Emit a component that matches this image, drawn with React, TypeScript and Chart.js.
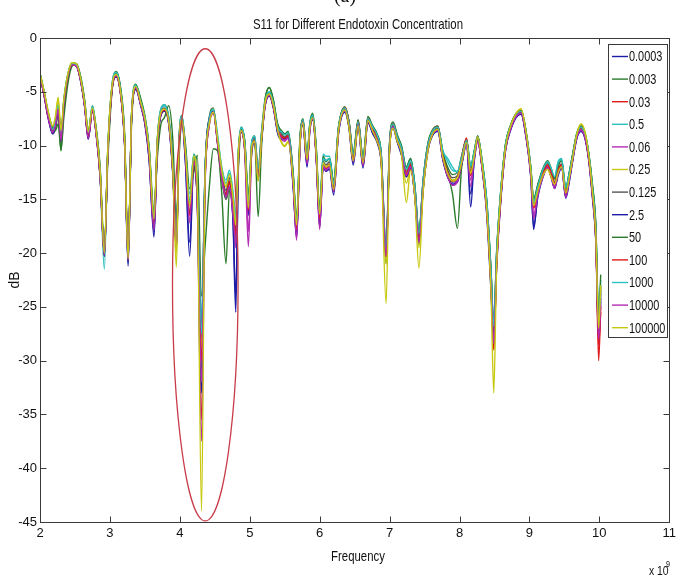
import React, { useEffect, useRef } from 'react';
import { Chart, registerables } from 'chart.js';

Chart.register(...registerables);

// Frequency in GHz (axis shows x 10^9)
const frequencyGHz = [
  2.00, 2.06, 2.12, 2.18, 2.22, 2.26, 2.30, 2.34, 2.40, 2.46,
  2.52, 2.58, 2.64, 2.69, 2.75, 2.80, 2.86, 2.92, 2.97, 3.03,
  3.09, 3.15, 3.21, 3.26, 3.31, 3.37, 3.44, 3.50, 3.56, 3.63,
  3.68, 3.73, 3.78, 3.84, 3.90, 3.95, 3.99, 4.03, 4.08, 4.14,
  4.20, 4.25, 4.31, 4.36, 4.42, 4.48, 4.54, 4.60, 4.66, 4.71,
  4.76, 4.80, 4.84, 4.88, 4.93, 4.98, 5.03, 5.07, 5.12, 5.17,
  5.22, 5.28, 5.34, 5.40, 5.45, 5.50, 5.55, 5.62, 5.67, 5.72,
  5.76, 5.82, 5.86, 5.90, 5.95, 6.00, 6.05, 6.09, 6.14, 6.20,
  6.27, 6.36, 6.42, 6.48, 6.55, 6.62, 6.69, 6.76, 6.82, 6.88,
  6.95, 7.00, 7.05, 7.11, 7.17, 7.24, 7.30, 7.36, 7.42, 7.48,
  7.55, 7.61, 7.69, 7.76, 7.83, 7.90, 7.97, 8.03, 8.10, 8.16,
  8.21, 8.26, 8.32, 8.39, 8.45, 8.49, 8.53, 8.59, 8.66, 8.73,
  8.81, 8.88, 8.95, 9.02, 9.06, 9.12, 9.19, 9.26, 9.31, 9.36,
  9.41, 9.46, 9.52, 9.57, 9.62, 9.68, 9.74, 9.80, 9.85, 9.90,
  9.95, 9.99, 10.02,
];

const concentrationLabels = [
  '0.0003', '0.003', '0.03', '0.5', '0.06', '0.25', '0.125',
  '2.5', '50', '100', '1000', '10000', '100000',
];

const lineColors = [
  '#1c1ca6', '#2a7a2a', '#e01818', '#2cc0c0', '#b42cb4', '#c8c810', '#555555',
  '#1c1ca6', '#2a7a2a', '#e01818', '#2cc0c0', '#b42cb4', '#c8c810',
];

const s0_0003 = [
  -3.5,-5.3,-7.4,-8.8,-8.2,-6.7,-9.5,-6.2,-3.5,-2.4,
  -2.5,-3.9,-6.4,-9.3,-6.5,-8.6,-12.8,-19.8,-10.6,-4.7,
  -3.5,-5.0,-9.8,-20.2,-7.3,-4.7,-6.2,-7.9,-11.2,-18.5,
  -9.8,-7.0,-6.6,-7.9,-12.6,-18.8,-9.7,-7.8,-11.5,-20.3,
  -11.8,-15.0,-28.0,-12.5,-7.5,-6.9,-9.9,-13.0,-14.8,-13.5,
  -17.0,-25.5,-11.0,-8.7,-10.4,-16.0,-10.0,-9.6,-13.0,-9.4,
  -6.2,-5.3,-6.5,-8.8,-9.3,-9.3,-9.2,-13.6,-18.2,-9.8,
  -8.0,-11.8,-8.4,-7.4,-10.9,-17.2,-11.8,-12.2,-12.0,-14.3,
  -8.8,-6.7,-8.3,-11.6,-8.1,-11.9,-7.8,-8.9,-9.6,-11.5,
  -20.5,-10.3,-8.3,-9.6,-10.8,-12.9,-12.0,-14.6,-19.2,-14.0,
  -10.3,-9.1,-8.6,-11.2,-12.8,-13.4,-13.2,-11.8,-9.8,-15.7,
  -11.3,-9.5,-11.9,-16.2,-23.0,-28.5,-21.2,-15.0,-10.3,-8.5,
  -7.3,-7.0,-9.1,-12.8,-17.8,-14.6,-12.9,-12.0,-12.8,-13.9,
  -12.6,-12.0,-14.8,-13.2,-11.3,-9.2,-8.6,-9.4,-11.4,-14.6,
  -18.8,-27.0,-23.5,
];
const s0_003 = [
  -3.3,-5.1,-7.3,-8.9,-8.5,-7.2,-10.5,-6.6,-3.5,-2.3,
  -2.4,-3.7,-6.0,-8.8,-6.3,-8.3,-12.2,-20.0,-10.2,-4.4,
  -3.1,-4.6,-9.2,-20.5,-7.0,-4.3,-5.8,-7.4,-10.2,-16.8,
  -9.2,-6.6,-6.2,-7.3,-11.6,-18.8,-9.2,-7.2,-10.2,-15.2,
  -10.8,-14.0,-31.0,-12.6,-7.4,-6.5,-9.8,-14.5,-21.0,-14.2,
  -15.0,-17.0,-10.2,-8.3,-9.8,-15.0,-9.6,-9.1,-12.2,-8.6,
  -5.6,-4.6,-5.9,-8.2,-8.7,-9.0,-8.8,-12.6,-17.0,-9.2,
  -7.6,-11.0,-8.0,-7.1,-10.2,-16.0,-11.2,-11.5,-11.2,-13.4,
  -8.3,-6.5,-7.8,-10.8,-7.7,-11.1,-7.4,-8.3,-9.0,-10.8,
  -21.0,-9.8,-7.9,-9.1,-10.1,-12.1,-11.3,-13.7,-18.0,-13.2,
  -9.8,-8.6,-8.2,-10.6,-12.0,-12.7,-12.5,-11.0,-9.4,-12.0,
  -10.5,-9.1,-11.2,-15.2,-21.5,-27.0,-20.0,-14.2,-9.8,-8.1,
  -7.0,-6.7,-8.6,-12.0,-15.0,-13.7,-12.2,-11.4,-12.1,-13.1,
  -11.9,-11.4,-14.0,-12.5,-10.8,-8.8,-8.2,-9.0,-10.8,-13.6,
  -17.5,-26.5,-23.0,
];
const s0_03 = [
  -3.4,-5.3,-7.5,-8.4,-7.7,-6.8,-9.3,-6.1,-3.4,-2.5,
  -2.6,-3.9,-6.3,-9.2,-6.8,-8.7,-12.9,-20.0,-10.8,-4.8,
  -3.6,-5.1,-9.8,-20.0,-7.4,-4.6,-6.1,-7.7,-10.8,-17.0,
  -9.6,-7.1,-6.8,-7.8,-12.4,-19.0,-9.7,-7.6,-10.8,-16.5,
  -11.5,-15.2,-35.5,-13.5,-8.0,-6.9,-9.6,-12.8,-14.5,-13.3,
  -15.8,-17.5,-10.7,-8.6,-10.3,-16.2,-10.0,-9.5,-12.8,-9.2,
  -6.1,-5.3,-6.4,-8.6,-9.1,-9.4,-9.2,-13.3,-18.0,-9.6,
  -7.7,-11.6,-8.3,-7.4,-10.8,-17.0,-11.7,-12.0,-11.7,-14.0,
  -8.4,-6.4,-7.9,-11.2,-7.7,-11.7,-7.5,-8.4,-9.4,-11.3,
  -20.4,-10.1,-8.0,-9.4,-10.5,-12.7,-11.8,-14.3,-18.8,-13.8,
  -10.2,-8.7,-8.2,-11.0,-12.6,-13.3,-13.0,-11.2,-9.4,-12.8,
  -11.0,-9.2,-11.7,-15.8,-22.5,-28.0,-21.0,-14.8,-10.1,-8.2,
  -7.1,-6.8,-8.9,-12.5,-15.8,-14.2,-12.7,-11.9,-12.6,-13.6,
  -12.4,-11.9,-14.5,-13.0,-11.1,-9.0,-8.2,-9.3,-11.2,-14.3,
  -18.5,-30.0,-25.0,
];
const s0_5 = [
  -3.3,-5.1,-7.0,-8.4,-7.8,-6.2,-9.0,-5.8,-3.3,-2.3,
  -2.4,-3.6,-6.0,-8.8,-6.3,-8.3,-12.8,-21.5,-10.4,-4.4,
  -3.2,-4.6,-9.3,-21.0,-7.0,-4.4,-5.9,-7.4,-10.3,-17.0,
  -9.2,-6.6,-6.2,-7.4,-11.8,-19.0,-9.3,-7.3,-10.3,-14.5,
  -10.8,-13.8,-26.0,-12.5,-7.6,-6.7,-9.0,-12.0,-13.2,-12.3,
  -14.2,-16.5,-10.2,-8.4,-9.8,-15.0,-9.6,-9.2,-12.3,-8.8,
  -5.9,-5.0,-6.0,-8.2,-8.6,-8.9,-8.7,-12.7,-17.2,-9.3,
  -7.6,-10.8,-8.0,-7.1,-10.3,-16.0,-10.8,-11.0,-11.0,-13.5,
  -8.4,-6.6,-8.0,-10.8,-7.8,-11.2,-7.5,-8.4,-9.0,-10.8,
  -19.5,-9.8,-8.0,-9.1,-10.1,-12.0,-11.2,-13.6,-18.0,-13.2,
  -9.8,-8.7,-8.4,-10.5,-11.2,-12.0,-12.5,-11.0,-9.5,-11.8,
  -10.6,-9.2,-11.3,-15.0,-21.5,-26.5,-20.0,-14.2,-9.8,-8.2,
  -7.1,-6.8,-8.7,-12.0,-15.2,-13.8,-12.3,-11.6,-12.2,-13.0,
  -11.5,-11.2,-13.8,-12.5,-10.8,-8.9,-8.2,-9.0,-10.8,-13.8,
  -17.6,-26.0,-22.5,
];
const s0_06 = [
  -3.5,-5.4,-7.6,-8.7,-8.1,-6.9,-9.7,-6.3,-3.5,-2.5,
  -2.6,-3.9,-6.4,-9.4,-6.8,-8.7,-12.7,-20.2,-10.7,-4.8,
  -3.6,-5.0,-9.7,-20.8,-7.3,-4.6,-6.2,-7.8,-10.8,-17.8,
  -9.7,-7.1,-6.7,-7.8,-12.3,-19.2,-9.8,-7.8,-10.9,-17.0,
  -11.6,-15.5,-37.5,-14.0,-8.2,-7.0,-9.8,-13.0,-15.0,-14.0,
  -16.5,-19.5,-11.2,-8.6,-10.8,-19.4,-10.4,-9.6,-13.0,-9.3,
  -6.3,-5.4,-6.5,-8.7,-9.4,-9.6,-9.3,-13.4,-18.8,-9.8,
  -7.9,-11.6,-8.5,-7.5,-11.0,-17.5,-11.9,-12.4,-11.9,-14.2,
  -8.6,-6.8,-8.2,-11.5,-8.1,-11.8,-7.8,-8.7,-9.5,-11.4,
  -20.2,-10.2,-8.2,-9.6,-10.6,-12.8,-11.9,-14.5,-19.0,-14.0,
  -10.3,-9.0,-8.6,-11.1,-12.9,-13.6,-13.1,-11.6,-9.8,-13.2,
  -11.2,-9.6,-11.8,-16.0,-22.8,-28.2,-21.0,-14.9,-10.2,-8.4,
  -7.3,-7.0,-9.0,-12.6,-16.5,-14.4,-12.9,-12.0,-12.8,-13.8,
  -12.5,-12.0,-14.7,-13.1,-11.2,-9.1,-8.5,-9.4,-11.2,-14.2,
  -18.2,-28.5,-24.5,
];
const s0_25 = [
  -3.3,-5.0,-7.0,-8.3,-7.5,-5.8,-8.8,-5.9,-3.3,-2.3,
  -2.4,-3.7,-6.1,-8.7,-6.5,-8.4,-12.4,-20.3,-10.3,-4.5,
  -3.4,-4.9,-9.4,-20.5,-7.1,-4.5,-6.0,-7.5,-10.4,-16.5,
  -9.4,-6.9,-6.6,-7.7,-12.5,-21.3,-9.8,-7.6,-10.6,-15.5,
  -11.0,-14.2,-29.0,-13.2,-8.0,-6.9,-9.4,-12.2,-13.8,-12.6,
  -14.8,-17.2,-10.4,-8.6,-10.2,-15.8,-10.0,-9.6,-13.2,-9.2,
  -6.0,-5.2,-6.3,-8.6,-9.6,-10.0,-9.6,-13.0,-17.2,-9.6,
  -7.9,-11.3,-8.3,-7.4,-10.6,-16.3,-11.6,-12.0,-11.8,-14.0,
  -8.6,-6.7,-8.3,-11.4,-8.2,-11.6,-7.7,-8.7,-9.6,-11.4,
  -21.0,-10.3,-8.4,-9.6,-10.8,-13.5,-12.2,-14.4,-19.5,-14.2,
  -10.4,-9.0,-8.5,-10.9,-12.5,-13.2,-12.9,-11.5,-9.7,-12.6,
  -11.0,-9.2,-11.6,-15.8,-22.5,-29.0,-21.0,-14.6,-10.1,-8.2,
  -7.0,-6.6,-8.7,-12.4,-15.4,-14.2,-12.8,-12.2,-12.9,-13.6,
  -12.5,-12.0,-14.4,-13.0,-11.1,-8.9,-8.0,-8.9,-11.0,-14.2,
  -18.3,-26.5,-23.2,
];
const s0_125 = [
  -3.4,-5.2,-7.2,-8.6,-8.0,-6.5,-9.2,-6.0,-3.4,-2.4,
  -2.5,-3.8,-6.2,-9.0,-6.6,-8.5,-12.5,-20.3,-10.5,-4.6,
  -3.3,-4.8,-9.5,-20.8,-7.2,-4.5,-6.0,-7.6,-10.5,-17.3,
  -9.5,-6.9,-6.5,-7.6,-12.0,-19.3,-9.5,-7.5,-10.5,-16.2,
  -11.2,-14.6,-27.0,-13.0,-7.8,-6.8,-9.5,-12.5,-14.2,-13.0,
  -15.5,-18.2,-10.5,-8.5,-10.0,-15.5,-9.8,-9.3,-12.5,-9.0,
  -6.0,-5.1,-6.2,-8.4,-8.9,-9.2,-9.0,-13.0,-17.4,-9.5,
  -7.8,-11.2,-8.2,-7.3,-10.5,-16.4,-11.5,-11.8,-11.5,-13.8,
  -8.5,-6.6,-8.0,-11.0,-7.9,-11.4,-7.6,-8.5,-9.2,-11.0,
  -19.8,-10.0,-8.1,-9.3,-10.3,-12.4,-11.6,-14.0,-18.4,-13.5,
  -10.0,-8.8,-8.4,-10.8,-12.3,-13.0,-12.8,-11.3,-9.6,-12.3,
  -10.8,-9.3,-11.5,-15.5,-22.0,-27.3,-20.5,-14.5,-10.0,-8.3,
  -7.2,-6.9,-8.8,-12.3,-15.5,-14.0,-12.5,-11.7,-12.4,-13.4,
  -12.2,-11.7,-14.3,-12.8,-11.0,-9.0,-8.4,-9.2,-11.0,-14.0,
  -18.0,-27.2,-23.8,
];
const s2_5 = [
  -3.5,-5.4,-7.5,-8.9,-8.3,-6.6,-9.6,-6.3,-3.6,-2.5,
  -2.6,-4.0,-6.5,-9.4,-6.7,-8.8,-13.0,-20.3,-10.9,-4.8,
  -3.6,-5.1,-10.0,-21.2,-7.5,-4.8,-6.3,-8.0,-11.3,-18.0,
  -10.0,-7.2,-6.8,-8.0,-12.8,-19.6,-9.9,-7.9,-11.6,-19.0,
  -11.9,-15.4,-33.0,-12.8,-7.6,-6.8,-9.6,-12.8,-14.6,-13.8,
  -16.8,-24.0,-11.2,-8.8,-10.5,-16.5,-10.2,-9.7,-13.2,-9.5,
  -6.3,-5.4,-6.6,-8.9,-9.4,-9.4,-9.3,-13.8,-18.5,-9.9,
  -8.1,-12.0,-8.6,-7.6,-11.1,-17.6,-12.0,-12.4,-12.2,-14.6,
  -8.9,-6.9,-8.4,-11.8,-8.3,-12.1,-7.9,-8.9,-9.7,-11.6,
  -20.0,-10.4,-8.4,-9.7,-10.9,-12.9,-12.1,-14.7,-18.8,-14.1,
  -10.4,-9.1,-8.7,-11.3,-12.9,-13.6,-13.4,-11.9,-9.9,-14.5,
  -11.5,-9.6,-12.0,-16.5,-23.5,-28.2,-21.5,-15.2,-10.4,-8.6,
  -7.4,-7.1,-9.2,-13.0,-17.5,-14.8,-13.0,-12.1,-12.9,-14.0,
  -12.8,-12.1,-14.9,-13.4,-11.4,-9.3,-8.7,-9.5,-11.5,-14.8,
  -19.0,-28.0,-24.2,
];
const s50 = [
  -3.3,-5.0,-7.0,-8.3,-8.6,-8.0,-10.4,-7.5,-4.2,-2.6,
  -2.4,-3.5,-5.8,-8.6,-6.8,-8.2,-12.0,-19.5,-11.5,-5.0,
  -3.2,-4.5,-8.8,-19.8,-8.0,-4.4,-5.6,-7.2,-10.0,-16.0,
  -11.0,-8.0,-7.4,-6.3,-9.5,-17.0,-11.0,-7.8,-9.8,-14.0,
  -12.5,-10.9,-24.0,-19.5,-14.0,-10.3,-10.5,-13.2,-15.0,-14.0,
  -16.0,-19.0,-11.8,-8.6,-9.6,-14.5,-10.6,-9.5,-16.6,-10.0,
  -5.8,-4.6,-5.8,-8.0,-8.6,-8.9,-8.7,-12.4,-16.8,-9.0,
  -7.5,-10.8,-7.9,-7.0,-10.0,-15.8,-11.0,-11.4,-11.2,-13.2,
  -8.2,-6.4,-7.7,-10.6,-7.6,-11.0,-7.3,-8.2,-8.9,-10.7,
  -19.6,-9.7,-7.8,-9.0,-10.0,-12.0,-11.2,-13.6,-18.0,-13.2,
  -9.7,-8.6,-8.2,-10.5,-12.5,-14.5,-17.7,-12.0,-9.4,-12.0,
  -10.6,-9.1,-11.3,-15.2,-21.6,-26.8,-20.2,-14.3,-9.8,-8.1,
  -7.0,-6.7,-8.6,-12.1,-15.0,-13.6,-12.2,-11.5,-12.2,-13.1,
  -11.9,-11.4,-14.0,-12.5,-10.7,-8.8,-8.2,-9.0,-10.8,-13.5,
  -17.4,-26.0,-22.0,
];
const s100 = [
  -3.4,-5.3,-7.3,-8.5,-7.9,-6.6,-9.0,-6.1,-3.5,-2.5,
  -2.6,-3.9,-6.3,-9.1,-6.7,-8.6,-12.6,-20.0,-10.6,-4.7,
  -3.5,-5.0,-9.6,-20.5,-7.3,-4.6,-6.1,-7.7,-10.7,-17.2,
  -9.6,-7.0,-6.7,-7.7,-12.2,-19.0,-9.6,-7.6,-10.7,-16.4,
  -11.4,-14.8,-30.0,-13.2,-7.9,-6.9,-9.7,-12.9,-14.6,-13.4,
  -15.9,-18.3,-10.8,-8.7,-10.4,-16.0,-10.1,-9.5,-12.9,-9.2,
  -6.1,-5.3,-6.4,-8.6,-9.1,-9.3,-9.1,-13.2,-17.8,-9.6,
  -7.7,-11.5,-8.3,-7.4,-10.7,-16.8,-11.7,-12.1,-11.8,-14.1,
  -8.6,-6.5,-7.9,-11.3,-7.8,-11.6,-7.5,-8.4,-9.3,-11.2,
  -20.3,-10.1,-8.0,-9.4,-10.5,-12.6,-11.8,-14.2,-18.7,-13.7,
  -10.1,-8.7,-8.3,-10.9,-12.5,-13.3,-13.0,-11.1,-9.3,-12.7,
  -10.9,-9.2,-11.8,-16.0,-23.0,-29.0,-21.4,-14.9,-10.2,-8.3,
  -7.1,-6.8,-8.8,-12.4,-15.8,-14.2,-12.6,-11.8,-12.5,-13.5,
  -12.3,-11.8,-14.5,-12.9,-11.0,-9.0,-8.3,-9.3,-11.3,-14.4,
  -18.8,-28.5,-25.5,
];
const s1000 = [
  -3.3,-5.1,-7.1,-8.5,-7.8,-6.2,-8.9,-5.8,-3.3,-2.4,
  -2.5,-3.7,-6.1,-8.8,-6.4,-8.4,-12.3,-20.0,-10.3,-4.4,
  -3.2,-4.7,-9.3,-20.5,-7.0,-4.4,-5.9,-7.4,-10.2,-16.8,
  -9.3,-6.6,-6.3,-7.4,-11.8,-18.8,-9.3,-7.3,-10.3,-15.2,
  -11.0,-13.9,-27.5,-12.6,-7.6,-6.7,-9.2,-12.2,-13.5,-12.6,
  -14.6,-17.0,-10.3,-8.3,-9.8,-15.2,-9.6,-9.1,-12.2,-8.8,
  -5.9,-5.0,-6.1,-8.3,-8.7,-9.0,-8.8,-12.8,-17.0,-9.3,
  -7.6,-10.9,-8.0,-7.2,-10.3,-16.2,-11.2,-11.4,-11.2,-13.5,
  -8.3,-6.5,-7.9,-10.8,-7.8,-11.2,-7.5,-8.3,-9.0,-10.8,
  -19.6,-9.8,-8.0,-9.2,-10.2,-12.2,-11.4,-13.7,-18.2,-13.3,
  -9.9,-8.7,-8.3,-10.4,-11.5,-12.3,-12.4,-11.2,-9.5,-11.9,
  -10.6,-9.2,-11.3,-15.2,-21.6,-26.8,-20.2,-14.3,-9.9,-8.2,
  -7.1,-6.8,-8.7,-12.1,-15.3,-13.8,-12.3,-11.5,-12.1,-12.9,
  -11.6,-11.3,-13.9,-12.6,-10.9,-8.9,-8.3,-9.1,-10.9,-13.8,
  -17.8,-26.8,-23.0,
];
const s10000 = [
  -3.5,-5.3,-7.4,-8.8,-8.2,-6.6,-9.5,-6.2,-3.5,-2.5,
  -2.6,-3.9,-6.4,-9.3,-6.8,-8.7,-12.8,-20.2,-10.7,-4.7,
  -3.5,-5.0,-9.7,-20.7,-7.3,-4.6,-6.2,-7.8,-10.9,-17.9,
  -9.8,-7.0,-6.6,-7.8,-12.4,-19.4,-9.8,-7.7,-10.9,-17.2,
  -11.5,-15.2,-32.0,-13.6,-8.1,-6.9,-9.8,-13.0,-14.8,-13.8,
  -16.3,-19.2,-11.0,-8.7,-10.6,-18.0,-10.3,-9.6,-13.0,-9.3,
  -6.2,-5.3,-6.4,-8.6,-9.3,-9.5,-9.3,-13.5,-18.6,-9.8,
  -7.9,-11.7,-8.5,-7.5,-11.0,-17.8,-11.9,-12.3,-12.0,-14.3,
  -8.7,-6.8,-8.2,-11.5,-8.1,-11.9,-7.8,-8.7,-9.5,-11.4,
  -20.3,-10.3,-8.3,-9.6,-10.6,-12.8,-12.0,-14.6,-19.0,-14.0,
  -10.3,-9.0,-8.6,-11.2,-12.9,-13.7,-13.4,-11.7,-9.9,-13.8,
  -11.3,-9.6,-11.9,-16.1,-23.0,-28.4,-21.3,-15.0,-10.3,-8.5,
  -7.3,-7.0,-9.1,-12.8,-16.8,-14.6,-13.0,-12.1,-12.9,-14.0,
  -12.6,-12.0,-14.8,-13.2,-11.3,-9.2,-8.6,-9.4,-11.3,-14.5,
  -18.6,-28.0,-24.8,
];
const s100000 = [
  -3.3,-5.0,-6.9,-8.2,-7.3,-5.5,-8.6,-5.8,-3.3,-2.3,
  -2.4,-3.7,-6.1,-8.7,-6.5,-8.4,-12.4,-20.0,-10.3,-4.5,
  -3.4,-4.9,-9.4,-20.5,-7.1,-4.5,-6.0,-7.5,-10.4,-16.8,
  -9.4,-6.9,-6.6,-7.7,-12.3,-20.0,-9.7,-7.6,-10.6,-15.6,
  -11.0,-14.3,-44.0,-13.4,-8.0,-6.9,-9.4,-12.3,-13.8,-12.7,
  -14.8,-17.4,-10.4,-8.6,-10.2,-15.8,-10.0,-9.6,-13.3,-9.2,
  -6.0,-5.2,-6.3,-8.6,-9.7,-10.1,-9.7,-13.1,-17.4,-9.6,
  -7.9,-11.3,-8.3,-7.4,-10.6,-16.4,-11.6,-12.0,-11.8,-14.1,
  -8.6,-6.7,-8.3,-11.4,-8.2,-11.6,-7.7,-8.7,-9.6,-11.6,
  -24.7,-10.4,-8.4,-9.6,-10.8,-15.3,-12.3,-14.8,-21.4,-14.3,
  -10.4,-9.0,-8.5,-11.0,-12.6,-13.3,-13.0,-11.6,-9.7,-12.6,
  -11.0,-9.2,-11.6,-16.0,-23.5,-33.0,-21.5,-14.7,-10.1,-8.2,
  -7.0,-6.6,-8.7,-12.4,-15.6,-14.2,-12.8,-12.2,-12.9,-13.6,
  -12.5,-12.0,-14.4,-13.0,-11.1,-8.9,-8.0,-8.9,-11.0,-14.2,
  -18.4,-27.0,-23.0,
];

const seriesValues = [
  s0_0003, s0_003, s0_03, s0_5, s0_06, s0_25, s0_125,
  s2_5, s50, s100, s1000, s10000, s100000,
];

const xTickValues = [2, 3, 4, 5, 6, 7, 8, 9, 10, 11];
const yTickValues = [0, -5, -10, -15, -20, -25, -30, -35, -40, -45];

// Red ellipse annotation (data units)
const ellipseCenterX = 4.364;
const ellipseCenterY = -22.95;
const ellipseRadiusX = 0.469;
const ellipseRadiusY = 21.95;

const SANS = '"Liberation Sans", Arial, Helvetica, sans-serif';

function squeezedText(ctx: any, text: string, x: number, y: number, sx: number) {
  ctx.save();
  ctx.translate(x, y);
  ctx.scale(sx, 1);
  ctx.fillText(text, 0, 0);
  ctx.restore();
}

const overlayPlugin = {
  id: 'matlabOverlay',
  afterDatasetsDraw(chart: any) {
    const { ctx, chartArea: a, scales } = chart;
    const xs = scales.x;
    const ys = scales.y;
    ctx.save();

    // ellipse
    const cx = xs.getPixelForValue(ellipseCenterX);
    const cy = ys.getPixelForValue(ellipseCenterY);
    const rx = Math.abs(xs.getPixelForValue(ellipseCenterX + ellipseRadiusX) - cx);
    const ry = Math.abs(ys.getPixelForValue(ellipseCenterY + ellipseRadiusY) - cy);
    ctx.beginPath();
    ctx.ellipse(cx, cy, rx, ry, 0, 0, Math.PI * 2);
    ctx.strokeStyle = '#c83c48';
    ctx.lineWidth = 1.3;
    ctx.stroke();

    // frame
    const L = Math.round(a.left) + 0.5;
    const T = Math.round(a.top) + 0.5;
    const R = Math.round(a.right) + 0.5;
    const B = Math.round(a.bottom) + 0.5;
    ctx.strokeStyle = '#3a3a3a';
    ctx.lineWidth = 1;
    ctx.strokeRect(L, T, R - L, B - T);

    // inward ticks
    const tl = 6;
    ctx.beginPath();
    xTickValues.forEach((v) => {
      const px = Math.round(xs.getPixelForValue(v)) + 0.5;
      ctx.moveTo(px, B); ctx.lineTo(px, B - tl);
      ctx.moveTo(px, T); ctx.lineTo(px, T + tl);
    });
    yTickValues.forEach((v) => {
      const py = Math.round(ys.getPixelForValue(v)) + 0.5;
      ctx.moveTo(L, py); ctx.lineTo(L + tl, py);
      ctx.moveTo(R, py); ctx.lineTo(R - tl, py);
    });
    ctx.stroke();

    // legend
    const lx0 = 608.5, lx1 = 667.5, ly0 = 44.5, ly1 = 337.5;
    ctx.fillStyle = '#ffffff';
    ctx.fillRect(lx0, ly0, lx1 - lx0, ly1 - ly0);
    ctx.strokeStyle = '#3a3a3a';
    ctx.strokeRect(lx0, ly0, lx1 - lx0, ly1 - ly0);
    ctx.font = '14px ' + SANS;
    ctx.textAlign = 'left';
    ctx.textBaseline = 'middle';
    chart.data.datasets.forEach((ds: any, i: number) => {
      const y = 56.5 + i * 22.6;
      ctx.beginPath();
      ctx.moveTo(612, y);
      ctx.lineTo(628, y);
      ctx.strokeStyle = ds.borderColor;
      ctx.lineWidth = 1.4;
      ctx.stroke();
      ctx.fillStyle = '#111';
      squeezedText(ctx, ds.label, 629, y + 1, 0.78);
    });

    ctx.restore();
  },
  afterDraw(chart: any) {
    const { ctx } = chart;
    ctx.save();
    ctx.fillStyle = '#111';
    // (a)
    ctx.font = '20px "Liberation Serif", "DejaVu Serif", serif';
    ctx.textAlign = 'center';
    ctx.textBaseline = 'alphabetic';
    ctx.fillText('(a)', 345, 2);
    // title (condensed look)
    ctx.font = '15px ' + SANS;
    squeezedText(ctx, 'S11 for Different Endotoxin Concentration', 358, 29, 0.76);
    // x label
    ctx.font = '15px ' + SANS;
    ctx.textBaseline = 'middle';
    squeezedText(ctx, 'Frequency', 358, 557, 0.76);
    // x 10^9
    ctx.textAlign = 'left';
    ctx.textBaseline = 'alphabetic';
    ctx.font = '13px ' + SANS;
    squeezedText(ctx, 'x 10', 649, 575, 0.8);
    ctx.font = '9px ' + SANS;
    squeezedText(ctx, '9', 666, 567, 0.8);
    // y label
    ctx.save();
    ctx.translate(15, 280);
    ctx.rotate(-Math.PI / 2);
    ctx.textAlign = 'center';
    ctx.textBaseline = 'middle';
    ctx.font = '14px ' + SANS;
    ctx.fillText('dB', 0, 0);
    ctx.restore();
    ctx.restore();
  },
};

export default function App() {
  const canvasRef = useRef<HTMLCanvasElement | null>(null);

  useEffect(() => {
    if (!canvasRef.current) return;
    const datasets = seriesValues.map((vals, i) => ({
      label: concentrationLabels[i],
      data: frequencyGHz.map((f, j) => ({ x: f, y: vals[j] })),
      borderColor: lineColors[i],
      backgroundColor: lineColors[i],
      borderWidth: 1.4,
      pointRadius: 0,
      cubicInterpolationMode: 'monotone',
      fill: false,
      order: seriesValues.length - 1 - i,
    }));
    const chart = new Chart(canvasRef.current, {
      type: 'line',
      data: { datasets },
      options: {
        animation: false,
        responsive: false,
        devicePixelRatio: 1,
        maintainAspectRatio: false,
        layout: { padding: { left: 0, top: 38, right: 10, bottom: 0 } },
        plugins: {
          legend: { display: false },
          tooltip: { enabled: false },
          title: { display: false },
        },
        scales: {
          x: {
            type: 'linear',
            min: 2,
            max: 11,
            afterBuildTicks: (scale: any) => {
              scale.ticks = xTickValues.map((v) => ({ value: v }));
            },
            afterFit: (scale: any) => {
              scale.height = 56;
            },
            grid: { display: false, drawTicks: false },
            border: { display: false },
            ticks: {
              padding: 4,
              color: '#111',
              autoSkip: false,
              maxRotation: 0,
              font: { family: SANS, size: 13 },
            },
          },
          y: {
            type: 'linear',
            min: -45,
            max: 0,
            afterBuildTicks: (scale: any) => {
              scale.ticks = yTickValues.map((v) => ({ value: v }));
            },
            afterFit: (scale: any) => {
              scale.width = 40;
            },
            grid: { display: false, drawTicks: false },
            border: { display: false },
            ticks: {
              padding: 3,
              color: '#111',
              autoSkip: false,
              font: { family: SANS, size: 13 },
            },
          },
        },
      },
      plugins: [overlayPlugin],
    } as any);
    return () => chart.destroy();
  }, []);

  return (
    <div style={{ position: 'absolute', left: 0, top: 0, width: 680, height: 578, background: '#fff' }}>
      <canvas ref={canvasRef} width={680} height={578} style={{ display: 'block', width: 680, height: 578 }} />
    </div>
  );
}
